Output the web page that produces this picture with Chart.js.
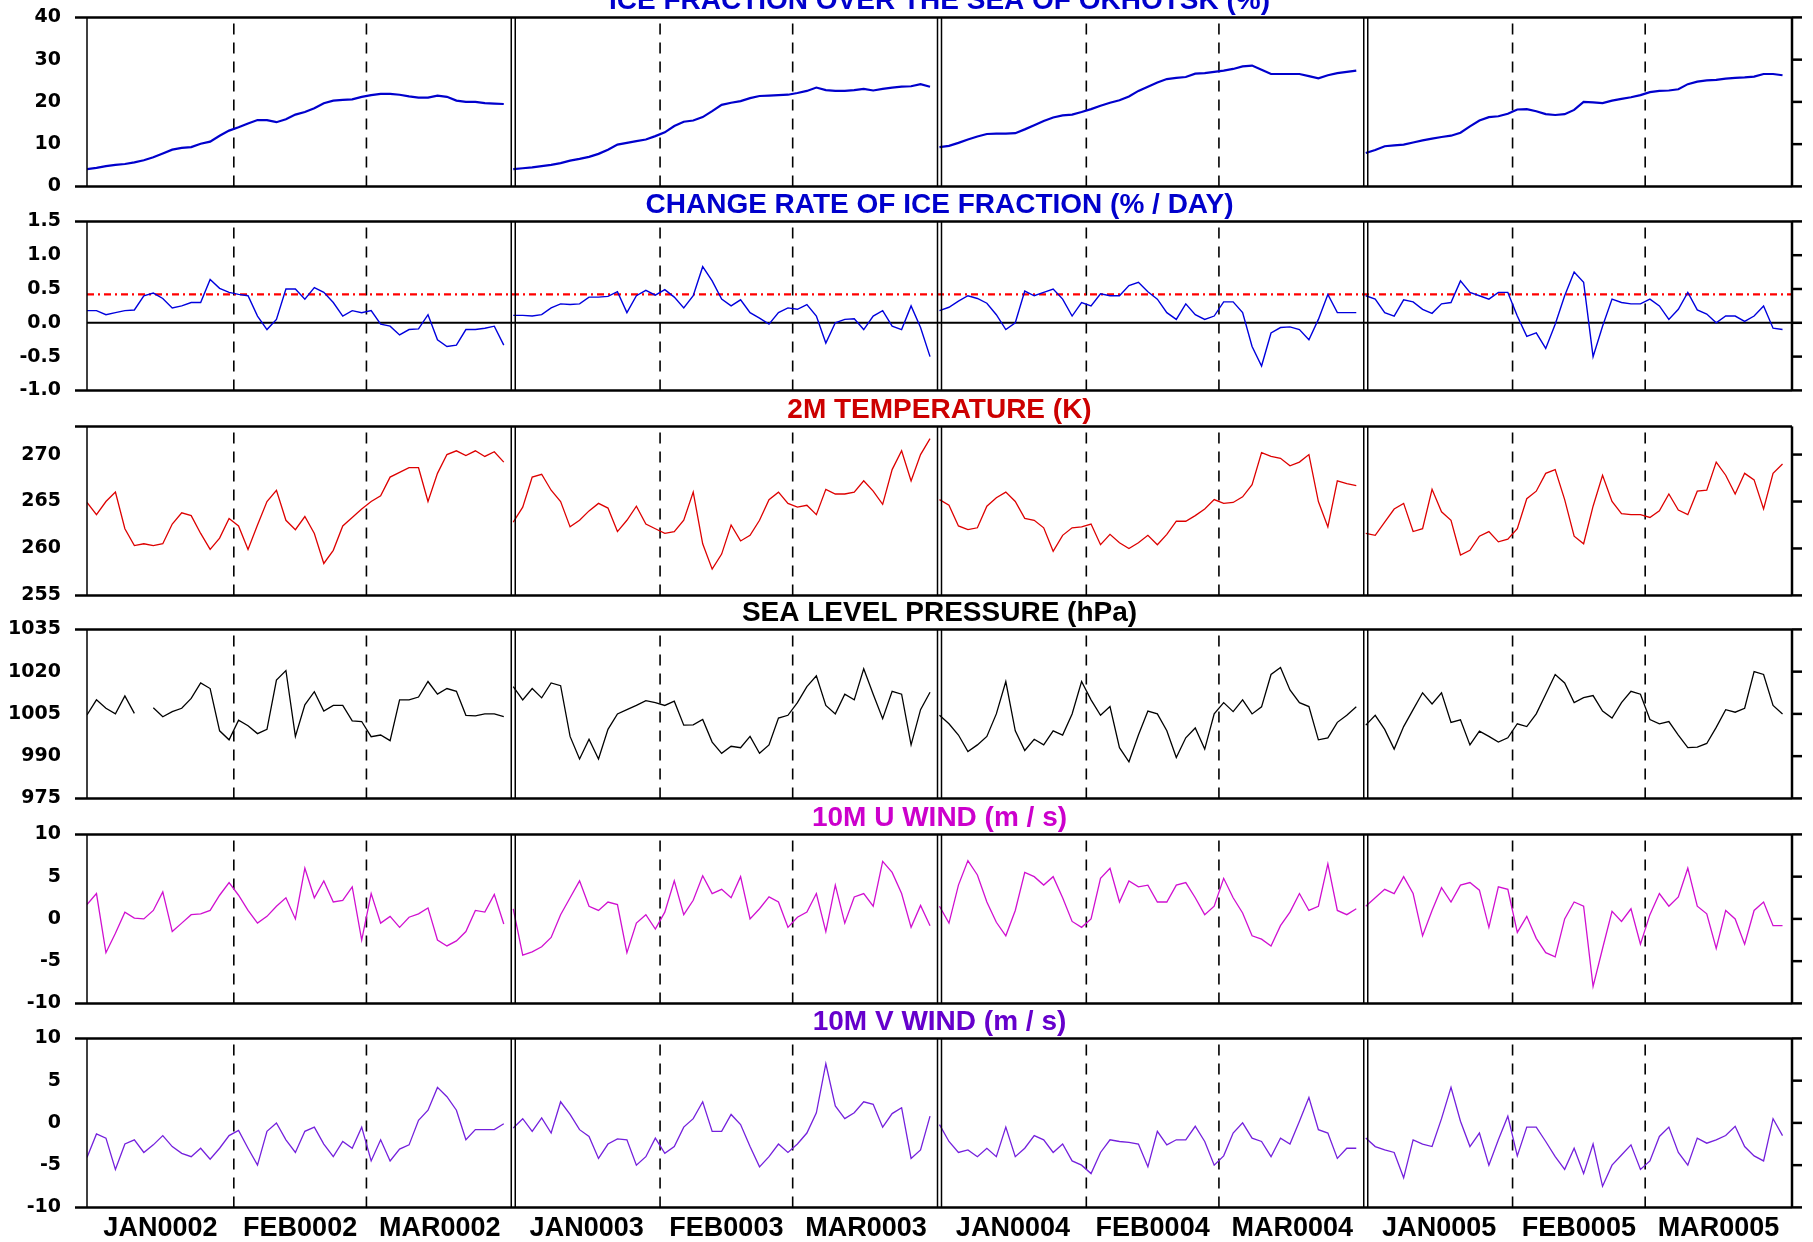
<!DOCTYPE html>
<html>
<head>
<meta charset="utf-8">
<title>Sea of Okhotsk ice fraction and surface fields</title>
<script src="https://cdn.jsdelivr.net/npm/chart.js@4.4.1/dist/chart.umd.min.js"></script>
<style>
  html, body { margin: 0; padding: 0; background: #fff; }
  body { width: 1813px; height: 1242px; position: relative; overflow: hidden; }
  .panel { position: absolute; left: 0; width: 1813px; }
</style>
</head>
<body>
<div class="panel" id="p0"><canvas id="c0"></canvas></div>
<div class="panel" id="p1"><canvas id="c1"></canvas></div>
<div class="panel" id="p2"><canvas id="c2"></canvas></div>
<div class="panel" id="p3"><canvas id="c3"></canvas></div>
<div class="panel" id="p4"><canvas id="c4"></canvas></div>
<div class="panel" id="p5"><canvas id="c5"></canvas></div>
<script>
// years / months shown along the bottom
const years = ['0002', '0003', '0004', '0005'];
const months = ['JAN', 'FEB', 'MAR'];
const monthDays = [31, 28, 31];
const dayStep = 2; // values read every 2 days from Jan 1

// ice fraction (%)
const iceFraction = [
  [4.1, 4.4, 4.8, 5.1, 5.3, 5.7, 6.2, 6.9, 7.8,
   8.7, 9.1, 9.3, 10.1, 10.6, 12.0, 13.2, 14.0, 14.9,
   15.7, 15.7, 15.2, 15.9, 17.0, 17.6, 18.5, 19.7, 20.3,
   20.5, 20.6, 21.2, 21.6, 21.9, 21.9, 21.7, 21.3, 21.0,
   21.0, 21.5, 21.2, 20.3, 20.0, 20.0, 19.7, 19.6, 19.5],
  [4.1, 4.3, 4.5, 4.8, 5.1, 5.5, 6.1, 6.5, 7.0,
   7.7, 8.7, 9.9, 10.3, 10.7, 11.1, 11.9, 12.8, 14.3,
   15.3, 15.6, 16.4, 17.8, 19.3, 19.8, 20.2, 20.9, 21.4,
   21.5, 21.6, 21.7, 22.1, 22.6, 23.4, 22.8, 22.6, 22.6,
   22.8, 23.1, 22.7, 23.1, 23.4, 23.6, 23.7, 24.2, 23.6],
  [9.3, 9.6, 10.3, 11.1, 11.8, 12.4, 12.5, 12.5, 12.6,
   13.5, 14.5, 15.5, 16.3, 16.8, 17.0, 17.6, 18.3, 19.1,
   19.8, 20.4, 21.3, 22.6, 23.6, 24.6, 25.4, 25.7, 25.9,
   26.7, 26.8, 27.1, 27.4, 27.8, 28.4, 28.6, 27.6, 26.6,
   26.6, 26.6, 26.6, 26.1, 25.6, 26.3, 26.8, 27.1, 27.4],
  [7.9, 8.6, 9.5, 9.7, 9.9, 10.4, 10.9, 11.3, 11.7,
   12.0, 12.7, 14.2, 15.6, 16.4, 16.6, 17.2, 18.2, 18.3,
   17.8, 17.1, 16.9, 17.1, 18.1, 20.0, 19.9, 19.7, 20.3,
   20.7, 21.1, 21.6, 22.3, 22.6, 22.7, 23.0, 24.2, 24.8,
   25.1, 25.2, 25.5, 25.7, 25.8, 26.0, 26.6, 26.6, 26.3]
];

// change rate of ice fraction (% / day)
const iceRate = [
  [0.18, 0.18, 0.12, 0.15, 0.18, 0.19, 0.40, 0.44, 0.36,
   0.22, 0.25, 0.30, 0.30, 0.64, 0.51, 0.45, 0.42, 0.40,
   0.10, -0.10, 0.05, 0.50, 0.50, 0.35, 0.52, 0.45, 0.30,
   0.10, 0.18, 0.15, 0.18, -0.02, -0.05, -0.18, -0.10, -0.09,
   0.12, -0.25, -0.35, -0.33, -0.10, -0.10, -0.08, -0.05, -0.33],
  [0.11, 0.11, 0.10, 0.12, 0.22, 0.28, 0.27, 0.28, 0.38,
   0.38, 0.39, 0.46, 0.15, 0.40, 0.48, 0.41, 0.49, 0.38,
   0.22, 0.40, 0.83, 0.62, 0.35, 0.25, 0.34, 0.15, 0.07,
   -0.02, 0.15, 0.22, 0.20, 0.27, 0.10, -0.30, 0.00, 0.05,
   0.06, -0.10, 0.10, 0.18, -0.05, -0.10, 0.25, -0.07, -0.50],
  [0.18, 0.23, 0.32, 0.40, 0.36, 0.29, 0.12, -0.10, 0.00,
   0.47, 0.40, 0.45, 0.50, 0.35, 0.10, 0.30, 0.25, 0.43,
   0.40, 0.40, 0.55, 0.60, 0.46, 0.35, 0.15, 0.05, 0.28,
   0.12, 0.05, 0.10, 0.31, 0.31, 0.15, -0.35, -0.64, -0.15,
   -0.07, -0.06, -0.10, -0.25, 0.05, 0.42, 0.15, 0.15, 0.15],
  [0.40, 0.35, 0.15, 0.10, 0.34, 0.31, 0.20, 0.14, 0.28,
   0.30, 0.62, 0.45, 0.40, 0.35, 0.45, 0.45, 0.10, -0.20,
   -0.15, -0.38, -0.02, 0.40, 0.75, 0.60, -0.50, -0.05, 0.35,
   0.30, 0.28, 0.28, 0.35, 0.25, 0.05, 0.20, 0.45, 0.19,
   0.13, 0.00, 0.10, 0.10, 0.02, 0.10, 0.25, -0.08, -0.10]
];
const rateZero = 0;
const rateThreshold = 0.42;

// 2 m temperature (K)
const temp2m = [
  [264.9, 263.6, 265.0, 266.0, 262.1, 260.3, 260.5, 260.3, 260.5,
   262.6, 263.8, 263.5, 261.6, 259.9, 261.1, 263.2, 262.4, 259.9,
   262.5, 265.0, 266.2, 263.0, 262.0, 263.4, 261.6, 258.4, 259.8,
   262.4, 263.3, 264.2, 265.0, 265.6, 267.6, 268.1, 268.6, 268.6,
   265.0, 268.0, 270.0, 270.4, 269.9, 270.4, 269.8, 270.3, 269.2],
  [262.8, 264.4, 267.6, 267.9, 266.2, 265.0, 262.3, 263.0, 264.0,
   264.8, 264.3, 261.8, 263.0, 264.5, 262.6, 262.1, 261.6, 261.8,
   263.0, 266.0, 260.5, 257.8, 259.4, 262.5, 260.8, 261.4, 263.0,
   265.2, 266.0, 264.8, 264.4, 264.6, 263.6, 266.3, 265.8, 265.8,
   266.0, 267.2, 266.1, 264.7, 268.4, 270.4, 267.2, 270.0, 271.7],
  [265.2, 264.6, 262.4, 262.0, 262.2, 264.5, 265.4, 266.0, 265.0,
   263.2, 263.0, 262.2, 259.7, 261.4, 262.2, 262.3, 262.6, 260.4,
   261.5, 260.6, 260.0, 260.6, 261.4, 260.4, 261.5, 262.9, 262.9,
   263.5, 264.2, 265.2, 264.8, 264.9, 265.5, 266.8, 270.2, 269.8,
   269.6, 268.8, 269.2, 270.0, 265.0, 262.3, 267.2, 266.9, 266.7],
  [261.6, 261.4, 262.8, 264.2, 264.8, 261.8, 262.1, 266.3, 263.9,
   263.0, 259.3, 259.8, 261.3, 261.8, 260.7, 261.0, 262.1, 265.3,
   266.1, 268.0, 268.4, 265.2, 261.3, 260.5, 264.5, 267.8, 265.0,
   263.7, 263.6, 263.6, 263.3, 264.0, 265.8, 264.1, 263.6, 266.1,
   266.2, 269.2, 267.8, 265.8, 268.0, 267.3, 264.2, 268.0, 269.0]
];

// sea level pressure (hPa), null = missing
const slp = [
  [1004.6, 1010.0, 1007.0, 1005.0, 1011.4, 1005.2, null, 1007.2, 1004.0,
   1005.8, 1007.0, 1010.5, 1016.0, 1014.0, 999.0, 995.8, 1002.8, 1000.8,
   998.0, 999.5, 1017.0, 1020.4, 997.0, 1008.2, 1012.9, 1006.0, 1008.0,
   1008.0, 1002.5, 1002.3, 996.9, 997.5, 995.5, 1010.0, 1010.0, 1011.0,
   1016.5, 1012.0, 1014.0, 1013.0, 1004.5, 1004.3, 1005.0, 1005.0, 1004.0],
  [1014.7, 1010.0, 1014.0, 1010.7, 1016.0, 1015.0, 997.0, 989.0, 996.0,
   989.0, 999.5, 1005.0, 1006.5, 1008.0, 1009.7, 1009.0, 1008.0, 1009.5,
   1001.0, 1001.1, 1003.0, 995.0, 991.0, 993.5, 993.0, 997.0, 991.0,
   994.0, 1003.5, 1004.5, 1009.0, 1014.7, 1018.5, 1008.0, 1005.0, 1012.0,
   1010.0, 1021.0, 1012.0, 1003.3, 1013.0, 1012.0, 994.0, 1006.5, 1012.7],
  [1004.5, 1001.5, 997.5, 991.6, 994.0, 997.0, 1005.0, 1016.5, 999.0,
   992.0, 996.0, 994.0, 999.0, 997.5, 1005.0, 1016.5, 1010.0, 1004.5,
   1007.6, 993.0, 988.0, 997.5, 1006.0, 1005.0, 999.0, 989.5, 996.5,
   1000.0, 992.5, 1005.0, 1009.0, 1005.8, 1010.0, 1005.0, 1007.5, 1019.0,
   1021.5, 1013.5, 1009.0, 1007.6, 995.8, 996.5, 1002.0, 1004.5, 1007.5],
  [1001.0, 1004.5, 999.5, 992.5, 1000.5, 1006.5, 1012.5, 1008.5, 1012.5,
   1002.0, 1002.9, 994.0, 998.9, 997.0, 995.0, 996.5, 1001.5, 1000.5,
   1005.0, 1012.0, 1019.0, 1016.0, 1009.0, 1010.8, 1011.5, 1006.0, 1003.5,
   1009.0, 1013.0, 1012.0, 1003.0, 1001.5, 1002.3, 997.5, 993.0, 993.2,
   994.5, 1000.2, 1006.5, 1005.6, 1007.0, 1020.0, 1019.0, 1008.0, 1005.0]
];

// 10 m u wind (m/s)
const uWind = [
  [1.7, 3.0, -4.0, -1.7, 0.8, 0.1, 0.0, 1.0, 3.2,
   -1.5, -0.5, 0.5, 0.6, 1.0, 2.8, 4.3, 2.8, 1.0,
   -0.5, 0.3, 1.5, 2.5, 0.0, 6.0, 2.5, 4.5, 2.0,
   2.2, 3.8, -2.5, 3.0, -0.5, 0.3, -1.0, 0.2, 0.6,
   1.3, -2.5, -3.2, -2.6, -1.5, 1.0, 0.8, 2.9, -0.6],
  [1.2, -4.3, -3.9, -3.3, -2.2, 0.5, 2.5, 4.5, 1.5,
   1.0, 2.0, 1.7, -4.0, -0.5, 0.5, -1.2, 0.8, 4.5,
   0.5, 2.2, 5.1, 3.0, 3.5, 2.5, 5.0, 0.0, 1.2,
   2.6, 2.0, -1.0, 0.2, 0.8, 3.0, -1.5, 4.0, -0.5,
   2.6, 3.0, 1.5, 6.8, 5.5, 3.0, -1.0, 1.6, -0.8],
  [1.5, -0.5, 4.0, 6.9, 5.2, 2.0, -0.4, -2.0, 1.0,
   5.5, 5.0, 4.0, 5.0, 2.5, -0.3, -1.0, 0.0, 4.8,
   6.0, 2.0, 4.5, 3.8, 4.0, 2.0, 2.0, 4.0, 4.3,
   2.5, 0.5, 1.5, 4.8, 2.5, 0.7, -2.0, -2.4, -3.2,
   -0.8, 0.8, 3.0, 1.0, 1.5, 6.5, 1.0, 0.5, 1.2],
  [1.5, 2.5, 3.5, 3.0, 5.0, 3.0, -2.0, 1.0, 3.7,
   2.0, 4.0, 4.3, 3.4, -1.0, 3.8, 3.5, -1.6, 0.3,
   -2.3, -4.0, -4.5, 0.0, 2.0, 1.5, -8.0, -3.5, 0.9,
   -0.3, 1.2, -3.0, 0.5, 3.0, 1.5, 2.6, 6.0, 1.5,
   0.6, -3.5, 1.0, 0.0, -3.0, 1.0, 2.0, -0.8, -0.8]
];

// 10 m v wind (m/s)
const vWind = [
  [-4.1, -1.3, -1.8, -5.5, -2.5, -2.0, -3.5, -2.6, -1.5,
   -2.8, -3.6, -4.0, -3.0, -4.3, -3.0, -1.5, -0.9, -3.0,
   -5.0, -1.0, 0.0, -2.0, -3.5, -1.0, -0.5, -2.5, -4.0,
   -2.2, -3.0, -0.5, -4.5, -2.0, -4.5, -3.1, -2.6, 0.3,
   1.5, 4.2, 3.1, 1.5, -2.0, -0.8, -0.8, -0.8, -0.1],
  [-0.6, 0.5, -1.0, 0.6, -1.2, 2.5, 1.0, -0.8, -1.6,
   -4.2, -2.5, -1.9, -2.0, -5.0, -4.0, -1.8, -3.6, -2.8,
   -0.5, 0.5, 2.5, -1.0, -1.0, 1.0, -0.2, -2.8, -5.2,
   -4.0, -2.5, -3.5, -2.5, -1.2, 1.2, 7.0, 2.0, 0.5,
   1.2, 2.5, 2.2, -0.5, 1.1, 1.8, -4.2, -3.2, 0.8],
  [-0.2, -2.2, -3.5, -3.2, -4.0, -3.0, -4.0, -0.5, -4.0,
   -3.0, -1.5, -2.0, -3.5, -2.5, -4.5, -5.0, -6.0, -3.5,
   -2.0, -2.2, -2.3, -2.5, -5.2, -1.0, -2.6, -2.0, -2.0,
   -0.4, -2.2, -5.0, -3.9, -1.2, 0.0, -1.8, -2.2, -4.0,
   -1.8, -2.5, 0.2, 3.0, -0.8, -1.2, -4.2, -3.0, -3.0],
  [-1.8, -2.8, -3.2, -3.5, -6.5, -2.0, -2.5, -2.8, 0.5,
   4.2, 0.2, -2.8, -1.2, -5.0, -2.0, 0.8, -3.9, -0.5,
   -0.5, -2.2, -4.0, -5.5, -3.0, -6.0, -2.5, -7.5, -5.0,
   -3.8, -2.6, -5.5, -4.5, -1.6, -0.5, -3.5, -5.0, -1.8,
   -2.4, -2.0, -1.5, -0.4, -2.8, -3.9, -4.5, 0.5, -1.5]
];

// y tick labels per panel
const iceTicks = [0, 10, 20, 30, 40];
const rateTicks = [-1.0, -0.5, 0.0, 0.5, 1.0, 1.5];
const tempTicks = [255, 260, 265, 270];
const slpTicks = [975, 990, 1005, 1020, 1035];
const windTicks = [-10, -5, 0, 5, 10];

const yearLen = monthDays.reduce((a, b) => a + b, 0);
const monthLabels = years.flatMap(y => months.map(m => m + y));
const monthCenters = [];
years.forEach((y, k) => {
  let d = 0;
  monthDays.forEach(n => { monthCenters.push(k * yearLen + d + n / 2); d += n; });
});

const panels = [
  { title: 'ICE FRACTION OVER THE SEA OF OKHOTSK (%)', titleColor: '#0000cc', color: '#0000cc', width: 2.2,
    data: iceFraction, ticks: iceTicks, min: 0, max: 40, digits: 0 },
  { title: 'CHANGE RATE OF ICE FRACTION (% / DAY)', titleColor: '#0000cc', color: '#0000dd', width: 1.4,
    data: iceRate, ticks: rateTicks, min: -1, max: 1.5, digits: 1, zero: rateZero, threshold: rateThreshold },
  { title: '2M TEMPERATURE (K)', titleColor: '#cc0000', color: '#dd0000', width: 1.3,
    data: temp2m, ticks: tempTicks, min: 255, max: 273, digits: 0 },
  { title: 'SEA LEVEL PRESSURE (hPa)', titleColor: '#000000', color: '#000000', width: 1.3,
    data: slp, ticks: slpTicks, min: 975, max: 1035, digits: 0 },
  { title: '10M U WIND (m / s)', titleColor: '#cc00cc', color: '#d010d0', width: 1.3,
    data: uWind, ticks: windTicks, min: -10, max: 10, digits: 0 },
  { title: '10M V WIND (m / s)', titleColor: '#6600cc', color: '#7420dc', width: 1.3,
    data: vWind, ticks: windTicks, min: -10, max: 10, digits: 0 }
];

// page layout (px)
const plotLeft = 87;
const plotRight = 1792;
const panelTops = [17, 221, 426, 629, 834, 1038];
const plotHeight = 169;
const header = 36;
const bottomPad = 16;
const bottomAxis = 35;

Chart.defaults.font.family = "'Liberation Sans', Arial, Helvetica, sans-serif";
Chart.defaults.font.weight = 'bold';
Chart.defaults.color = '#000';

function toPoints(series) {
  const pts = [];
  series.forEach((yr, k) => {
    yr.forEach((v, i) => pts.push({ x: k * yearLen + i * dayStep, y: v }));
    pts.push({ x: k * yearLen + yearLen - 0.5, y: null });
  });
  return pts;
}

function line(ctx, x1, y1, x2, y2) {
  ctx.beginPath(); ctx.moveTo(x1, y1); ctx.lineTo(x2, y2); ctx.stroke();
}

const framePlugin = {
  id: 'frame',
  beforeDatasetsDraw(chart, args, opts) {
    const { ctx, chartArea: a } = chart;
    const xs = chart.scales.x, ys = chart.scales.y;
    ctx.save();
    ctx.strokeStyle = '#000';
    ctx.lineWidth = 1.6;
    ctx.setLineDash([11, 8]);
    years.forEach((y, k) => {
      let d = 0;
      monthDays.slice(0, -1).forEach(n => {
        d += n;
        const px = xs.getPixelForValue(k * yearLen + d);
        line(ctx, px, a.bottom, px, a.top);
      });
    });
    ctx.setLineDash([]);
    if (opts.zero !== undefined) {
      ctx.lineWidth = 2;
      const py = ys.getPixelForValue(opts.zero);
      line(ctx, a.left, py, a.right, py);
    }
    if (opts.threshold !== undefined) {
      ctx.strokeStyle = '#ff0000';
      ctx.lineWidth = 2.4;
      ctx.setLineDash([7, 4, 2, 4]);
      const py = ys.getPixelForValue(opts.threshold);
      line(ctx, a.left, py, a.right, py);
    }
    ctx.restore();
  },
  afterDatasetsDraw(chart, args, opts) {
    const { ctx, chartArea: a } = chart;
    const xs = chart.scales.x, ys = chart.scales.y;
    ctx.save();
    ctx.strokeStyle = '#000';
    ctx.lineWidth = 1.5;
    for (let k = 1; k < years.length; k++) {
      const px = xs.getPixelForValue(k * yearLen);
      line(ctx, px - 2, a.top, px - 2, a.bottom);
      line(ctx, px + 2, a.top, px + 2, a.bottom);
    }
    line(ctx, a.left, a.top, a.left, a.bottom);
    ctx.lineWidth = 2.5;
    line(ctx, a.right, a.top, a.right, a.bottom);
    line(ctx, a.left - 12, a.top, a.right, a.top);
    line(ctx, a.left - 12, a.bottom, a.right, a.bottom);
    opts.ticks.forEach(v => {
      const py = ys.getPixelForValue(v);
      line(ctx, a.right, py, a.right + 10, py);
    });
    ctx.restore();
  }
};

// move / stretch a panel box until its plot area sits where the page wants it
function placePanel(chart, box, i) {
  for (let n = 0; n < 4; n++) {
    const a = chart.chartArea;
    const top = parseFloat(box.style.top);
    const h = parseFloat(box.style.height);
    const dTop = panelTops[i] - (top + a.top);
    const dH = plotHeight - (a.bottom - a.top);
    if (Math.abs(dTop) < 0.5 && Math.abs(dH) < 0.5) break;
    box.style.top = (top + dTop) + 'px';
    box.style.height = (h + dH) + 'px';
    chart.resize();
  }
}

panels.forEach((p, i) => {
  const last = i === panels.length - 1;
  const box = document.getElementById('p' + i);
  box.style.top = (panelTops[i] - header) + 'px';
  box.style.height = (header + plotHeight + (last ? bottomAxis : bottomPad)) + 'px';

  const chart = new Chart(document.getElementById('c' + i), {
    type: 'line',
    data: {
      datasets: [{
        data: toPoints(p.data),
        borderColor: p.color,
        borderWidth: p.width,
        pointRadius: 0,
        tension: 0,
        spanGaps: false
      }]
    },
    options: {
      responsive: true,
      maintainAspectRatio: false,
      animation: false,
      events: [],
      layout: { padding: { left: 0, right: 1813 - plotRight, top: 0, bottom: last ? 0 : bottomPad } },
      plugins: {
        legend: { display: false },
        tooltip: { enabled: false },
        title: {
          display: true,
          text: p.title,
          color: p.titleColor,
          fullSize: false,
          font: { size: 28, weight: 'bold', lineHeight: 1 },
          padding: { top: 6, bottom: 2 }
        },
        frame: { ticks: p.ticks, zero: p.zero, threshold: p.threshold }
      },
      scales: {
        x: {
          type: 'linear',
          min: 0,
          max: years.length * yearLen,
          display: last,
          afterFit: s => { if (last) s.height = bottomAxis; },
          afterBuildTicks: s => { s.ticks = monthCenters.map(v => ({ value: v })); },
          grid: { display: false, drawTicks: false },
          border: { display: false },
          ticks: {
            autoSkip: false,
            maxRotation: 0,
            padding: 5,
            color: '#000',
            font: { size: 27, weight: 'bold' },
            callback: (v, idx) => monthLabels[idx]
          }
        },
        y: {
          min: p.min,
          max: p.max,
          afterFit: s => { s.width = plotLeft; },
          afterBuildTicks: s => { s.ticks = p.ticks.map(v => ({ value: v })); },
          grid: { display: false, drawTicks: false },
          border: { display: false },
          ticks: {
            autoSkip: false,
            padding: 26,
            color: '#000',
            font: { family: "'DejaVu Sans', 'Liberation Sans', sans-serif", size: 19, weight: 'bold' },
            callback: v => Number(v).toFixed(p.digits)
          }
        }
      }
    },
    plugins: [framePlugin]
  });
  placePanel(chart, box, i);
});
</script>
</body>
</html>
